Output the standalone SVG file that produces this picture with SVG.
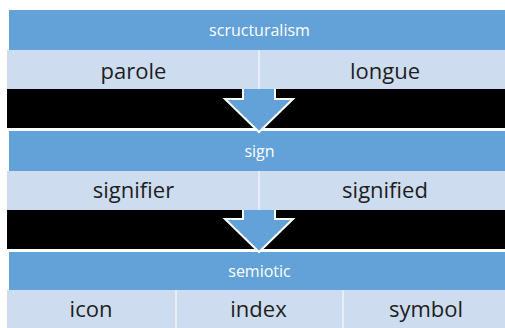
<svg xmlns="http://www.w3.org/2000/svg" width="505" height="328" viewBox="0 0 505 328">
<style>
.hdr{fill:#62a2d8}
.cell{fill:#cddcef}
.band{fill:#000}
.div{stroke:#ffffff;stroke-width:1}
.ht{font-family:"Open Sans","Liberation Sans",sans-serif;font-size:16px;fill:#ffffff;text-anchor:middle}
.ct{font-family:"Open Sans","Liberation Sans",sans-serif;font-size:22px;fill:#1e1e1e;text-anchor:middle}
.arrow{fill:#62a2d8;stroke:#ffffff;stroke-width:2;stroke-linejoin:miter}
</style>
<rect width="505" height="328" fill="#ffffff"/>
<g id="structuralism">
<rect class="hdr" x="9" y="10" width="496" height="40"/>
<text class="ht" x="259.5" y="35.5">scructuralism</text>
</g>
<g id="sign">
<rect class="hdr" x="9" y="131" width="496" height="40"/>
<text class="ht" x="259.5" y="156.5">sign</text>
</g>
<g id="semiotic">
<rect class="hdr" x="9" y="252" width="496" height="38"/>
<text class="ht" x="259.5" y="276.5">semiotic</text>
</g>
<rect class="band" x="7" y="89" width="498" height="39"/>
<rect class="band" x="7" y="210" width="498" height="39"/>
<g id="connectors">
<polygon class="arrow" points="243,85 275,85 275,99 293,99 259,132 225,99 243,99"/>
<polygon class="arrow" points="243,206 275,206 275,219 293,219 259,252 225,219 243,219"/>
</g>
<g id="parole">
<rect class="cell" x="7" y="50" width="252" height="39"/>
<text class="ct" x="133.5" y="78.5">parole</text>
</g>
<g id="longue">
<rect class="cell" x="259" y="50" width="246" height="39"/>
<text class="ct" x="385" y="78.5">longue</text>
</g>
<g id="signifier">
<rect class="cell" x="7" y="171" width="252" height="39"/>
<text class="ct" x="133.5" y="197.5">signifier</text>
</g>
<g id="signified">
<rect class="cell" x="259" y="171" width="246" height="39"/>
<text class="ct" x="385" y="197.5">signified</text>
</g>
<g id="icon">
<rect class="cell" x="7" y="290" width="169" height="38"/>
<text class="ct" x="91" y="316.5">icon</text>
</g>
<g id="index">
<rect class="cell" x="176" y="290" width="167" height="38"/>
<text class="ct" x="258.5" y="316.5">index</text>
</g>
<g id="symbol">
<rect class="cell" x="343" y="290" width="162" height="38"/>
<text class="ct" x="426" y="316.5">symbol</text>
</g>
<line class="div" x1="259" y1="50" x2="259" y2="89"/>
<line class="div" x1="259" y1="171" x2="259" y2="210"/>
<line class="div" x1="176" y1="290" x2="176" y2="328"/>
<line class="div" x1="343" y1="290" x2="343" y2="328"/>
</svg>
